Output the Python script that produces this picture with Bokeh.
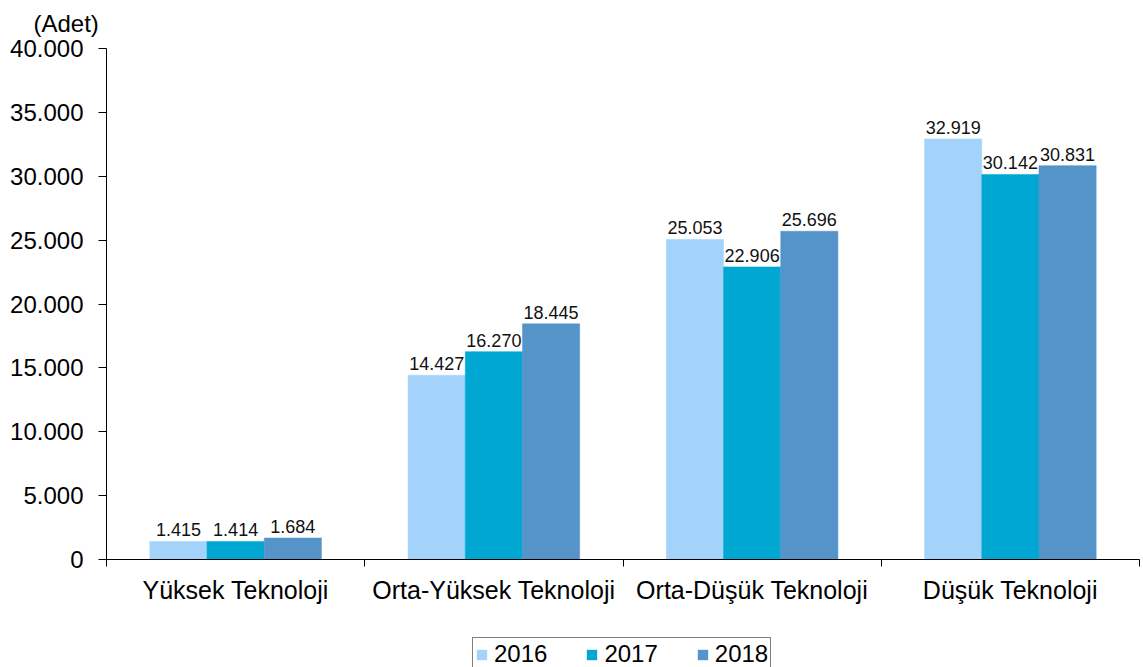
from bokeh.plotting import figure
from bokeh.layouts import column
from bokeh.models import (ColumnDataSource, FixedTicker, CustomJSTickFormatter,
                          Legend, LegendItem, Range1d)
from bokeh.core.properties import value
from bokeh.embed import file_html
from bokeh.resources import INLINE

categories = ["Yüksek Teknoloji", "Orta-Yüksek Teknoloji", "Orta-Düşük Teknoloji", "Düşük Teknoloji"]
years = ["2016", "2017", "2018"]
v2016 = [1415, 14427, 25053, 32919]
v2017 = [1414, 16270, 22906, 30142]
v2018 = [1684, 18445, 25696, 30831]
series = [v2016, v2017, v2018]
colors = ["#A3D3FA", "#00A7D3", "#5594C8"]
y_ticks = list(range(0, 40001, 5000))

FONT = "Liberation Sans"
BAR_W = 0.2215

p = figure(width=1143, height=625, output_backend="svg", toolbar_location=None,
           x_range=Range1d(0, len(categories)), y_range=Range1d(0, 40000),
           min_border_left=106, min_border_right=4, min_border_top=48,
           min_border_bottom=66)

p.title.text = "(Adet)"
p.title.align = "left"
p.title.vertical_align = "top"
p.title.offset = -73
p.title.text_font = FONT
p.title.text_font_size = "24px"
p.title.text_font_style = "normal"
p.title.text_color = "#000000"
p.title.standoff = 19

for j, (yr, vals, col) in enumerate(zip(years, series, colors)):
    xs = [i + 0.5 + (j - 1) * BAR_W for i in range(len(categories))]
    src = ColumnDataSource(dict(x=xs, top=vals,
                                lab=[f"{v:,}".replace(",", ".") for v in vals]))
    p.vbar(x="x", top="top", width=BAR_W, source=src, fill_color=col,
           line_color=col, line_width=0.5)
    p.text(x="x", y="top", text="lab", source=src, text_align="center",
           text_baseline="bottom", y_offset=-5, text_font=value(FONT),
           text_font_size="18px", text_color="#111111")

# x axis
p.xaxis.ticker = FixedTicker(ticks=[i + 0.5 for i in range(len(categories))],
                             minor_ticks=list(range(len(categories) + 1)))
p.xaxis.formatter = CustomJSTickFormatter(args=dict(cats=categories),
                                          code="return cats[Math.floor(tick)]")
p.xaxis.major_tick_out = 0
p.xaxis.major_tick_in = 0
p.xaxis.minor_tick_out = 7
p.xaxis.minor_tick_in = 0
p.xaxis.minor_tick_line_color = "black"
p.xaxis.axis_line_color = "black"
p.xaxis.major_label_text_font = FONT
p.xaxis.major_label_text_font_size = "25px"
p.xaxis.major_label_text_color = "#000000"
p.xaxis.major_label_standoff = 9

# y axis
p.yaxis.ticker = FixedTicker(ticks=y_ticks)
p.yaxis.formatter = CustomJSTickFormatter(
    code="return tick.toFixed(0).replace(/\\B(?=(\\d{3})+(?!\\d))/g, '.')")
p.yaxis.major_tick_out = 8
p.yaxis.major_tick_in = 0
p.yaxis.minor_tick_line_color = None
p.yaxis.axis_line_color = "black"
p.yaxis.major_tick_line_color = "black"
p.yaxis.major_label_text_font = FONT
p.yaxis.major_label_text_font_size = "24px"
p.yaxis.major_label_text_color = "#000000"
p.yaxis.major_label_standoff = 15

p.xgrid.visible = False
p.ygrid.visible = False
p.outline_line_color = None

# legend strip below the chart
lg = figure(width=1143, height=42, output_backend="svg", toolbar_location=None,
            x_range=Range1d(0, 1), y_range=Range1d(0, 1), min_border=0)
lg.axis.visible = False
lg.xgrid.visible = False
lg.ygrid.visible = False
lg.outline_line_color = None

items = []
for yr, col in zip(years, colors):
    # zero-size proxy glyph, only used to draw the legend swatch
    r = lg.vbar(x=[0], top=[0], width=0, fill_color=col, line_color=None)
    items.append(LegendItem(label=yr, renderers=[r]))

legend = Legend(items=items, orientation="horizontal", location=(366, -4))
legend.label_text_font = FONT
legend.label_text_font_size = "24px"
legend.label_text_color = "#000000"
legend.glyph_width = 13
legend.glyph_height = 13
legend.label_standoff = 6
legend.spacing = 38
legend.padding = 2
legend.margin = 0
legend.border_line_color = "black"
legend.border_line_width = 1
legend.background_fill_color = "white"
legend.background_fill_alpha = 1
lg.add_layout(legend, "center")

layout = column(p, lg, spacing=0)
open("out.html", "w").write(file_html(layout, INLINE))
